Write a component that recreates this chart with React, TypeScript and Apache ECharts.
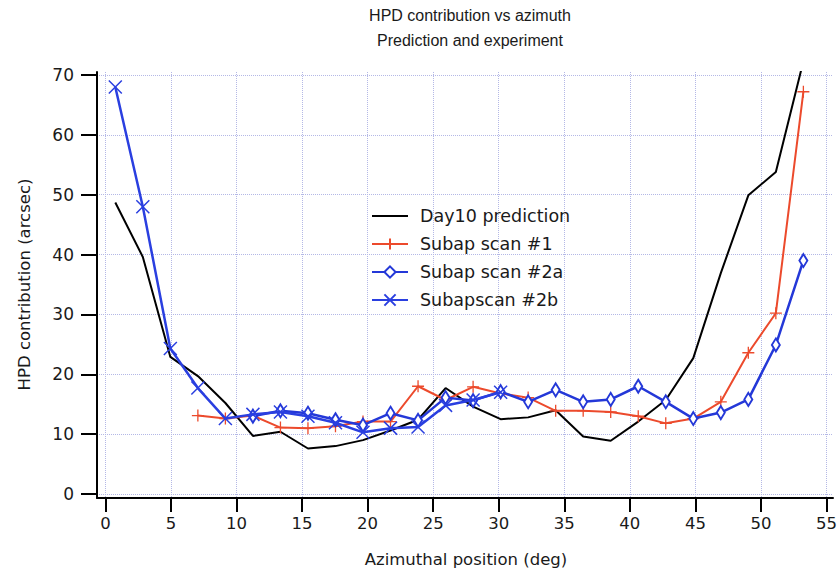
import React, { useEffect, useRef } from "react";
import * as echarts from "echarts";

const xBlack = [0.75, 2.84, 4.93, 7.02, 9.11, 11.2, 13.29, 15.38, 17.47, 19.56, 21.65, 23.74, 25.83, 27.92, 30.01, 32.1, 34.19, 36.28, 38.37, 40.46, 42.55, 44.64, 46.73, 48.82, 50.91, 53.0];
const yBlack = [48.7, 39.6, 22.9, 19.7, 15.2, 9.7, 10.4, 7.6, 8.0, 9.0, 10.6, 12.4, 17.7, 14.6, 12.5, 12.8, 14.0, 9.6, 8.9, 12.1, 15.7, 22.7, 36.9, 49.9, 53.8, 72.3];

const xRed = [7.02, 9.11, 11.2, 13.29, 15.38, 17.47, 19.56, 21.65, 23.74, 25.83, 27.92, 30.01, 32.1, 34.19, 36.28, 38.37, 40.46, 42.55, 44.64, 46.73, 48.82, 50.91, 53.0];
const yRed = [13.1, 12.6, 13.1, 11.1, 11.0, 11.3, 12.1, 12.1, 18.0, 15.7, 17.9, 16.8, 16.1, 13.9, 13.9, 13.7, 13.0, 11.8, 12.6, 15.4, 23.6, 30.2, 67.2];

const x2a = [11.2, 13.29, 15.38, 17.47, 19.56, 21.65, 23.74, 25.83, 27.92, 30.01, 32.1, 34.19, 36.28, 38.37, 40.46, 42.55, 44.64, 46.73, 48.82, 50.91, 53.0];
const y2a = [13.0, 13.9, 13.5, 12.4, 11.5, 13.5, 12.3, 16.1, 15.6, 17.1, 15.4, 17.4, 15.4, 15.8, 18.0, 15.4, 12.6, 13.6, 15.8, 24.9, 39.0];

const x2b = [0.75, 2.84, 4.93, 7.02, 9.11, 11.2, 13.29, 15.38, 17.47, 19.56, 21.65, 23.74, 25.83, 27.92, 30.01];
const y2b = [68.0, 48.0, 24.3, 17.7, 12.6, 13.3, 13.7, 13.0, 11.9, 10.3, 11.0, 11.2, 14.8, 15.7, 17.0];

const seriesNames = ["Day10 prediction", "Subap scan #1", "Subap scan #2a", "Subapscan #2b"];
const titleLines = ["HPD contribution vs azimuth", "Prediction and experiment"];
const xName = "Azimuthal position (deg)";
const yName = "HPD contribution (arcsec)";

const zip = (xs: number[], ys: number[]) => xs.map((x, i) => [x, ys[i]]);

const FONT = "DejaVu Sans";
const TXT = "#1a1a1a";
const GRIDC = "#b4b8e6";

export default function App() {
  const ref = useRef<HTMLDivElement>(null);
  useEffect(() => {
    document.body.style.margin = "0";
    if (!ref.current) return;
    const chart = echarts.init(ref.current, null, { renderer: "svg" });
    const option: any = {
      animation: false,
      backgroundColor: "#ffffff",
      graphic: [
        { type: "text", x: 470, y: 15, style: { text: titleLines[0], align: "center", verticalAlign: "middle", font: "16px 'Liberation Sans Narrow', 'Liberation Sans', sans-serif", fill: TXT } },
        { type: "text", x: 470, y: 40, style: { text: titleLines[1], align: "center", verticalAlign: "middle", font: "16px 'Liberation Sans Narrow', 'Liberation Sans', sans-serif", fill: TXT } },
      ],
      grid: [
        { left: 97, top: 72, width: 736, height: 426 },
        { left: 97, top: 75, width: 736, height: 419 },
        { left: 105.4, top: 72, width: 724.6, height: 426 },
      ],
      xAxis: [
        { type: "value", gridIndex: 0, min: -0.64, max: 55.25, axisLine: { show: true, onZero: false, lineStyle: { color: "#000", width: 2 } }, axisTick: { show: false }, axisLabel: { show: false }, splitLine: { show: false } },
        { type: "value", gridIndex: 1, min: 0, max: 1, show: false },
        {
          type: "value", gridIndex: 2, min: 0, max: 55, interval: 5,
          axisLine: { show: false, onZero: false },
          axisTick: { show: true, length: 14, lineStyle: { color: "#000", width: 2 } },
          axisLabel: { show: true, margin: 17, fontFamily: FONT, fontSize: 16.5, color: TXT },
          splitLine: { show: true, lineStyle: { color: GRIDC, type: "dotted", width: 1 } },
          name: xName, nameLocation: "middle", nameGap: 53,
          nameTextStyle: { fontFamily: FONT, fontSize: 16.5, color: TXT },
        },
      ],
      yAxis: [
        { type: "value", gridIndex: 0, min: -0.67, max: 70.5, axisLine: { show: true, onZero: false, lineStyle: { color: "#000", width: 2 } }, axisTick: { show: false }, axisLabel: { show: false }, splitLine: { show: false } },
        {
          type: "value", gridIndex: 1, min: 0, max: 70, interval: 10,
          axisLine: { show: false, onZero: false },
          axisTick: { show: true, length: 16, lineStyle: { color: "#000", width: 2 } },
          axisLabel: { show: true, margin: 23, fontFamily: FONT, fontSize: 17, color: TXT },
          splitLine: { show: true, lineStyle: { color: GRIDC, type: "dotted", width: 1 } },
          name: yName, nameLocation: "middle", nameGap: 64,
          nameTextStyle: { fontFamily: FONT, fontSize: 16.5, color: TXT },
        },
        { type: "value", gridIndex: 2, min: 0, max: 1, show: false },
      ],
      legend: {
        orient: "vertical", left: 366, top: 202, itemWidth: 36, itemHeight: 14, itemGap: 10,
        data: [
          { name: seriesNames[0], itemStyle: { opacity: 0 } },
          seriesNames[1], seriesNames[2], seriesNames[3],
        ],
        textStyle: { fontFamily: FONT, fontSize: 17.5, color: TXT, padding: [0, 0, 0, 7] },
      },
      series: [
        {
          name: seriesNames[0], type: "line", xAxisIndex: 0, yAxisIndex: 0, data: zip(xBlack, yBlack),
          symbol: "none", showSymbol: false, lineStyle: { color: "#000", width: 2 }, itemStyle: { color: "#000" }, clip: true, z: 3,
        },
        {
          name: seriesNames[1], type: "line", xAxisIndex: 0, yAxisIndex: 0, data: zip(xRed, yRed),
          symbol: "path://M5,0L5,10M0,5L10,5", symbolSize: 12,
          lineStyle: { color: "#ec4a2c", width: 2 }, itemStyle: { color: "#ec4a2c", borderColor: "#ec4a2c", borderWidth: 1.3 }, clip: true, z: 4,
        },
        {
          name: seriesNames[2], type: "line", xAxisIndex: 0, yAxisIndex: 0, data: zip(x2a, y2a),
          symbol: "emptyDiamond", symbolSize: [8, 13],
          lineStyle: { color: "#2438d8", width: 2.5 }, itemStyle: { color: "#2438d8", borderColor: "#2438d8", borderWidth: 1.5 }, clip: true, z: 5,
        },
        {
          name: seriesNames[3], type: "line", xAxisIndex: 0, yAxisIndex: 0, data: zip(x2b, y2b),
          symbol: "path://M0,0L10,10M10,0L0,10", symbolSize: 13,
          lineStyle: { color: "#2a3fe0", width: 2.5 }, itemStyle: { color: "#2a3fe0", borderColor: "#2a3fe0", borderWidth: 1.5 }, clip: true, z: 6,
        },
      ],
    };
    chart.setOption(option);
    return () => chart.dispose();
  }, []);
  return <div ref={ref} style={{ width: 840, height: 575 }} />;
}
